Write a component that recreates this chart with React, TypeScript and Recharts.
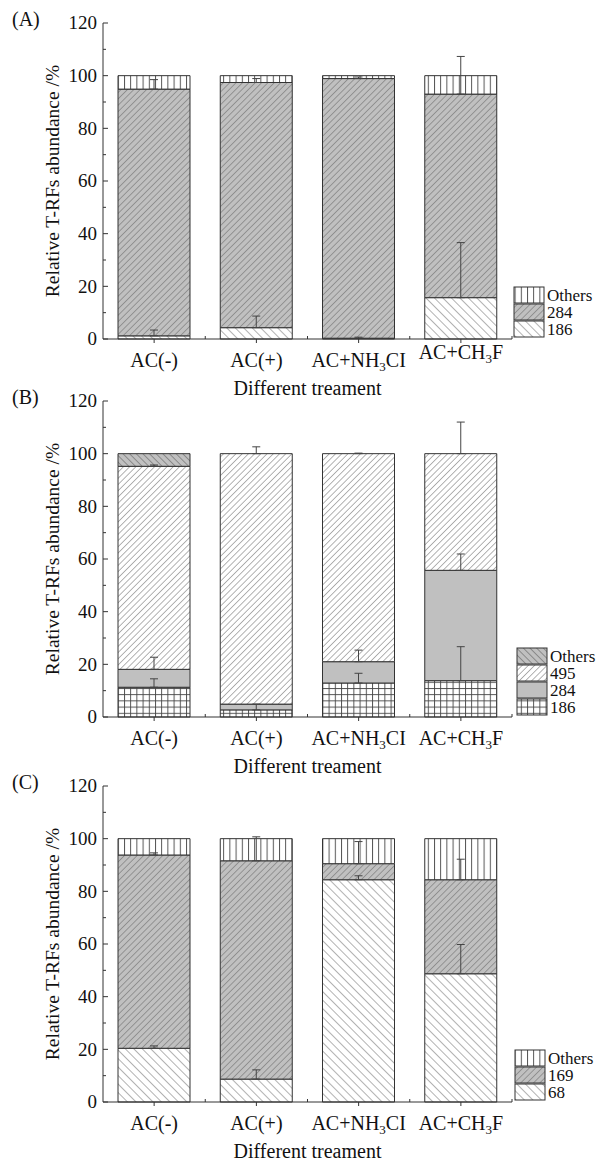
import React from 'react';
import { BarChart, Bar, XAxis, YAxis, ErrorBar } from 'recharts';

const treatments = ['AC(-)', 'AC(+)', 'AC+NH3CI', 'AC+CH3F'];
const yTicks = [0, 10, 20, 30, 40, 50, 60, 70, 80, 90, 100, 110, 120];

// panel A
const a186 = [1.2, 4.3, 0.3, 15.7];
const a284 = [93.7, 93.1, 98.6, 77.3];
const aOthers = [5.1, 2.6, 1.1, 7.0];
const a186Err = [2.2, 4.4, 0.4, 20.9];
const a284Err = [3.6, 1.5, 0.6, 14.3];

// panel B
const b186 = [11.3, 2.7, 12.9, 13.8];
const b284 = [6.8, 2.2, 8.1, 41.9];
const b495 = [77.1, 95.1, 79.0, 44.3];
const bOthers = [4.8, 0, 0, 0];
const b186Err = [3.2, 2.2, 3.7, 12.9];
const b284Err = [4.6, 0, 4.4, 6.2];
const b495Err = [0.5, 2.6, 0.2, 12.0];

// panel C
const c68 = [20.4, 8.7, 84.4, 48.7];
const c169 = [73.4, 82.9, 6.1, 35.7];
const cOthers = [6.2, 8.4, 9.5, 15.6];
const c68Err = [0.9, 3.5, 1.5, 11.1];
const c169Err = [0.8, 9.1, 8.4, 7.8];

const FONT = "'Liberation Serif', 'Times New Roman', serif";
const W = 606;
const H = 400;
const PLOT_LEFT = 103;
const PLOT_RIGHT = 512;
const PLOT_TOP = 23;
const PLOT_BOTTOM = 339;
const Y_AXIS_W = 60;
const X_AXIS_H = 40;
const INK = '#333';
const GRAY = '#c0c0c0';

interface Series {
  key: string;
  name: string;
  values: number[];
  err?: number[];
  pattern: string;
}

const panelA: Series[] = [
  { key: 's186', name: '186', values: a186, err: a186Err, pattern: 'whiteBack' },
  { key: 's284', name: '284', values: a284, err: a284Err, pattern: 'graySlash' },
  { key: 'others', name: 'Others', values: aOthers, pattern: 'vlines' },
];
const panelB: Series[] = [
  { key: 's186', name: '186', values: b186, err: b186Err, pattern: 'grid' },
  { key: 's284', name: '284', values: b284, err: b284Err, pattern: 'gray' },
  { key: 's495', name: '495', values: b495, err: b495Err, pattern: 'whiteSlash' },
  { key: 'others', name: 'Others', values: bOthers, pattern: 'grayBack' },
];
const panelC: Series[] = [
  { key: 's68', name: '68', values: c68, err: c68Err, pattern: 'whiteBack' },
  { key: 's169', name: '169', values: c169, err: c169Err, pattern: 'graySlash' },
  { key: 'others', name: 'Others', values: cOthers, pattern: 'vlines' },
];

const Patterns = () => (
  <svg width={0} height={0} style={{ position: 'absolute' }}>
    <defs>
      <pattern id="vlines" patternUnits="userSpaceOnUse" width={6.2} height={10}>
        <rect width={6.2} height={10} fill="#fff" />
        <line x1={0.5} y1={0} x2={0.5} y2={10} stroke="#444" strokeWidth={0.9} />
      </pattern>
      <pattern id="graySlash" patternUnits="userSpaceOnUse" width={4.5} height={10} patternTransform="rotate(45)">
        <rect width={4.5} height={10} fill={GRAY} />
        <line x1={0} y1={0} x2={0} y2={10} stroke="#555" strokeWidth={0.9} />
      </pattern>
      <pattern id="whiteBack" patternUnits="userSpaceOnUse" width={6} height={10} patternTransform="rotate(-45)">
        <rect width={6} height={10} fill="#fff" />
        <line x1={0} y1={0} x2={0} y2={10} stroke="#555" strokeWidth={0.9} />
      </pattern>
      <pattern id="whiteSlash" patternUnits="userSpaceOnUse" width={4.4} height={10} patternTransform="rotate(45)">
        <rect width={4.4} height={10} fill="#fff" />
        <line x1={0} y1={0} x2={0} y2={10} stroke="#555" strokeWidth={0.9} />
      </pattern>
      <pattern id="grayBack" patternUnits="userSpaceOnUse" width={4.7} height={10} patternTransform="rotate(-45)">
        <rect width={4.7} height={10} fill={GRAY} />
        <line x1={0} y1={0} x2={0} y2={10} stroke="#444" strokeWidth={0.9} />
      </pattern>
      <pattern id="gray" patternUnits="userSpaceOnUse" width={10} height={10}>
        <rect width={10} height={10} fill={GRAY} />
      </pattern>
      <pattern id="grid" patternUnits="userSpaceOnUse" width={6.2} height={6.2}>
        <rect width={6.2} height={6.2} fill="#fff" />
        <line x1={0.5} y1={0} x2={0.5} y2={6.2} stroke="#444" strokeWidth={0.9} />
        <line x1={0} y1={0.5} x2={6.2} y2={0.5} stroke="#444" strokeWidth={0.9} />
      </pattern>
    </defs>
  </svg>
);

const YTick = (props: any) => {
  const { y, payload } = props;
  const v = payload.value;
  const major = v % 20 === 0;
  return (
    <g>
      <line x1={PLOT_LEFT} x2={PLOT_LEFT + (major ? 5 : 3)} y1={y} y2={y} stroke={INK} />
      {major && (
        <text x={PLOT_LEFT - 6} y={y} dy="0.34em" textAnchor="end" fontSize={19} fontFamily={FONT} fill="#111">
          {v}
        </text>
      )}
    </g>
  );
};

const XTick = (props: any) => {
  const { x, payload, index, lift } = props;
  const band = (PLOT_RIGHT - PLOT_LEFT) / treatments.length;
  const parts = String(payload.value).split(/(\d)/);
  const raise = lift && index === treatments.length - 1 ? 8 : 0;
  return (
    <g>
      <line x1={x + band / 2} x2={x + band / 2} y1={PLOT_BOTTOM} y2={PLOT_BOTTOM - 3} stroke={INK} />
      <text x={x} y={367 - raise} textAnchor="middle" fontSize={20} fontFamily={FONT} fill="#111">
        {parts.map((p, i) =>
          /^\d$/.test(p) ? (
            <tspan key={i} dy={4} fontSize={13}>{p}</tspan>
          ) : (
            <tspan key={i} dy={i > 0 ? -4 : 0}>{p}</tspan>
          )
        )}
      </text>
    </g>
  );
};

interface PanelProps {
  tag: string;
  series: Series[];
  top: number;
  legendX: number;
  rowH: number;
  lift?: boolean;
}

const Panel = ({ tag, series, top, legendX, rowH, lift }: PanelProps) => {
  const data = treatments.map((t, i) => {
    const row: Record<string, any> = { name: t };
    series.forEach((s) => {
      row[s.key] = s.values[i];
      if (s.err) row[s.key + 'Err'] = s.err[i] > 0 ? [0, s.err[i]] : null;
    });
    return row;
  });
  const legendRows = [...series].reverse();
  const legendTop = PLOT_BOTTOM - 1 - legendRows.length * rowH;

  return (
    <div style={{ position: 'absolute', left: 0, top, width: W, height: H }}>
      <BarChart
        width={W}
        height={H}
        data={data}
        margin={{ top: PLOT_TOP, right: W - PLOT_RIGHT, left: PLOT_LEFT - Y_AXIS_W, bottom: H - PLOT_BOTTOM - X_AXIS_H }}
      >
        <XAxis
          dataKey="name"
          height={X_AXIS_H}
          interval={0}
          tickSize={4}
          axisLine={{ stroke: INK }}
          tickLine={{ stroke: INK }}
          tick={(p: any) => <XTick {...p} lift={lift} />}
        />
        <YAxis
          width={Y_AXIS_W}
          domain={[0, 120]}
          ticks={yTicks}
          interval={0}
          tickLine={false}
          axisLine={{ stroke: INK }}
          tick={(p: any) => <YTick {...p} />}
        />
        {series.map((s) => (
          <Bar
            key={s.key}
            dataKey={s.key}
            stackId="stack"
            fill={`url(#${s.pattern})`}
            stroke={INK}
            strokeWidth={1}
            barSize={72}
            isAnimationActive={false}
          >
            {s.err && (
              <ErrorBar dataKey={s.key + 'Err'} direction="y" width={4} stroke="#444" strokeWidth={1} />
            )}
          </Bar>
        ))}
      </BarChart>
      <svg width={W} height={H} style={{ position: 'absolute', left: 0, top: 0, pointerEvents: 'none' }}>
        <text x={12} y={26} fontSize={20} fontFamily={FONT} fill="#111">{tag}</text>
        <text
          x={59}
          y={(PLOT_TOP + PLOT_BOTTOM) / 2}
          transform={`rotate(-90, 59, ${(PLOT_TOP + PLOT_BOTTOM) / 2})`}
          textAnchor="middle"
          fontSize={19.5}
          fontFamily={FONT}
          fill="#111"
        >
          Relative T-RFs abundance /%
        </text>
        <text x={(PLOT_LEFT + PLOT_RIGHT) / 2} y={395} textAnchor="middle" fontSize={20} fontFamily={FONT} fill="#111">
          Different treament
        </text>
        {legendRows.map((s, i) => {
          const y = legendTop + i * rowH;
          return (
            <g key={s.key}>
              <rect x={legendX} y={y} width={30} height={rowH - 1} fill={`url(#${s.pattern})`} stroke={INK} strokeWidth={1} />
              <text x={legendX + 33} y={y + rowH - 3} fontSize={rowH} fontFamily={FONT} fill="#111">{s.name}</text>
            </g>
          );
        })}
      </svg>
    </div>
  );
};

export default function App() {
  return (
    <div style={{ position: 'absolute', left: 0, top: 0, width: 606, height: 1161, background: '#fff', overflow: 'hidden' }}>
      <Patterns />
      <Panel tag="(A)" series={panelA} top={0} legendX={514} rowH={17} lift />
      <Panel tag="(B)" series={panelB} top={378} legendX={517} rowH={17} />
      <Panel tag="(C)" series={panelC} top={763} legendX={515} rowH={17} />
    </div>
  );
}
